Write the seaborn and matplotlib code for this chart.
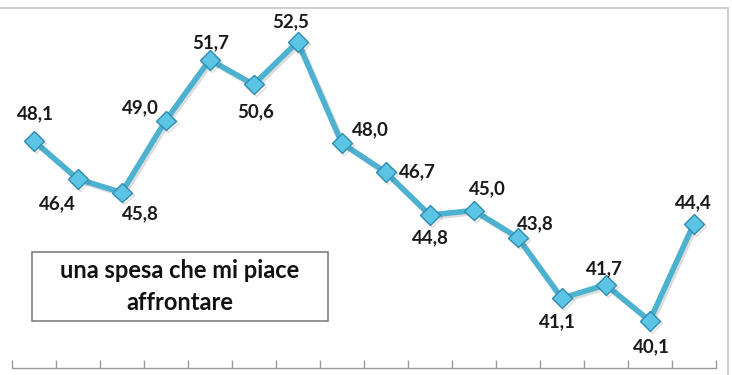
import matplotlib
matplotlib.use("Agg")
import matplotlib.pyplot as plt
import matplotlib.patheffects as pe
from matplotlib.patches import Rectangle
from matplotlib.lines import Line2D
import seaborn as sns
import pandas as pd

values = [48.1, 46.4, 45.8, 49.0, 51.7, 50.6, 52.5, 48.0, 46.7, 44.8, 45.0, 43.8, 41.1, 41.7, 40.1, 44.4]
labels = ["48,1", "46,4", "45,8", "49,0", "51,7", "50,6", "52,5", "48,0", "46,7", "44,8", "45,0", "43,8", "41,1", "41,7", "40,1", "44,4"]
label_offsets = [(2, 27), (-20, -25), (19, -21), (-25, 13), (1, 17), (2, -27), (-7, 20), (29, 13),
                 (32, 0), (1, -23), (14, 22), (18, 14), (-4, -24), (-1, 16), (2, -26), (0, 21)]
box_text = "una spesa che mi piace\naffrontare"

W, H = 732, 375
sns.set_theme(style="white")
plt.rcParams["font.family"] = ["Lato", "DejaVu Sans"]

fig = plt.figure(figsize=(W / 100, H / 100), dpi=100)
ax = fig.add_axes([11.7 / W, (H - 368) / H, (715.7 - 11.7) / W, 360 / H])

df = pd.DataFrame({"pos": range(len(values)), "val": values})
line_color = "#4DB2D0"
sns.lineplot(data=df, x="pos", y="val", ax=ax, color=line_color, linewidth=4.0,
             marker="D", markersize=10, markerfacecolor="#5CC4E4", markeredgecolor="#2F8DB0",
             markeredgewidth=1.0, zorder=3,
             path_effects=[pe.SimpleLineShadow(offset=(1.5, -1.5), alpha=0.15), pe.Normal()])

ax.set_xlim(-0.5, len(values) - 0.5)
ax.set_ylim(38, 54)
ax.set_xlabel("")
ax.set_ylabel("")
ax.set_yticks([])
ax.set_xticks([i - 0.5 for i in range(len(values) + 1)])
ax.set_xticklabels([])
ax.tick_params(axis="x", direction="in", length=6, color="#9a9a9a", width=1, bottom=True)
for s in ["top", "right", "left"]:
    ax.spines[s].set_visible(False)
ax.spines["bottom"].set_color("#9a9a9a")
ax.spines["bottom"].set_linewidth(1)
ax.set_facecolor("none")

for i, (v, lab) in enumerate(zip(values, labels)):
    dx, dy = label_offsets[i]
    ax.annotate(lab, (i, v), xytext=(dx * 0.72, dy * 0.72), textcoords="offset points",
                ha="center", va="center", fontsize=13.5, fontweight="bold", color="#1a1a1a")

# chart-area border (top and right visible)
fig.add_artist(Line2D([0, 728 / W], [(H - 8) / H, (H - 8) / H], transform=fig.transFigure,
                      color="#cfcfcf", linewidth=1.5))
fig.add_artist(Line2D([728 / W, 728 / W], [0, (H - 8) / H], transform=fig.transFigure,
                      color="#cfcfcf", linewidth=1.5))

# text box
bx0, bx1, by0, by1 = 32, 328, 252, 321
fig.add_artist(Rectangle((bx0 / W, (H - by1) / H), (bx1 - bx0) / W, (by1 - by0) / H,
                         transform=fig.transFigure, facecolor="white", edgecolor="#7f7f7f", linewidth=1.2))
fig.text((bx0 + bx1) / 2 / W, (H - (by0 + by1) / 2) / H, box_text, ha="center", va="center",
         fontsize=17, fontweight="bold", color="#111111", linespacing=1.45)

fig.savefig("out.png", dpi=100)
